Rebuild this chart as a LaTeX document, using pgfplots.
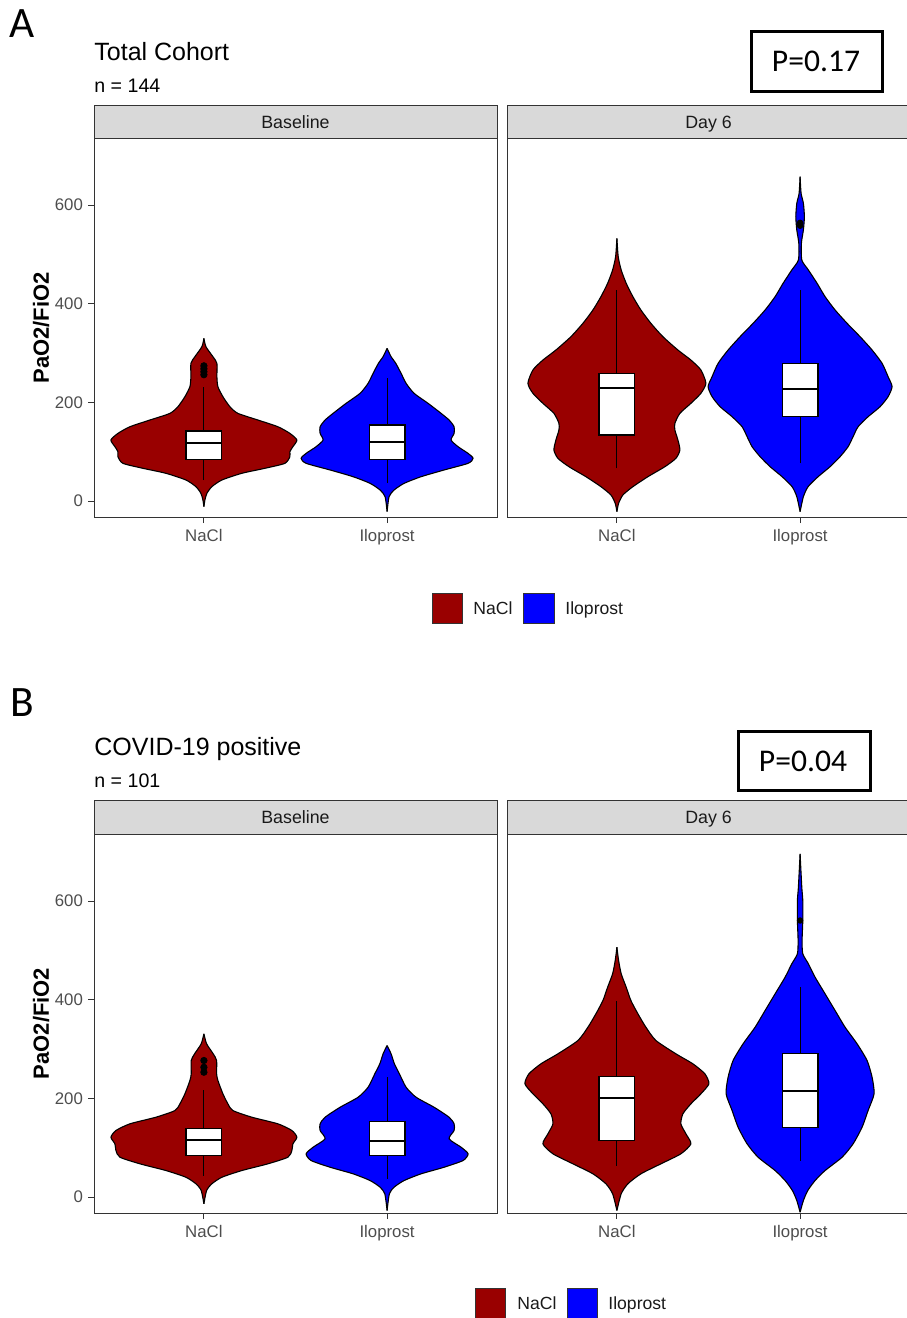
\documentclass[border=0pt]{standalone}
\usepackage{pgfplots}
\pgfplotsset{compat=1.18}
\usepackage{pgfplotstable}
\usepgfplotslibrary{fillbetween}
\usepackage{fontspec}
\setmainfont{Liberation Sans}
\newfontfamily\calibri{Carlito}
\definecolor{nacl}{HTML}{990000}
\definecolor{ilo}{HTML}{0000FF}
\definecolor{grey20}{HTML}{333333}
\definecolor{grey30}{HTML}{4D4D4D}
\definecolor{grey10}{HTML}{1A1A1A}
\definecolor{grey85}{HTML}{D9D9D9}

% violin half-widths (w in pixels of the original, 183.2 px per category unit)
\pgfplotstableread{
y w
-11.5 0
2 1
15.6 3
29.1 8
42.6 18
56.2 38
66.3 61
76.4 81
89.9 86
100 86
110.1 89
123.7 93
137.1 86
150.6 74
164.2 54
177.7 34
191.2 26
211.5 19
231.8 14
252.1 13
279.1 13
292.6 9
312.9 2
329.8 0
}\vAbn
\pgfplotstableread{
y w
-21.6 0
8.8 2
22.3 7
35.8 17
49.3 34
62.9 57
76.4 81
86.5 86
96.6 81
110.1 71
123.7 64
137.1 67
150.6 67
164.2 62
177.7 54
198 41
218.3 27
238.6 19
258.8 14
279.1 8.7
292.6 4
309.5 0
}\vAbi
\pgfplotstableread{
y w
-21.6 0
-4.7 1.7
12.2 6
29.1 16
49.3 31
69.6 48
86.5 59
103.4 63
123.7 61
143.9 58
157.5 58
177.7 63
198 74
218.3 84
238.6 89
265.6 84
285.8 74
306.1 61
333.1 46
360.2 34
387.2 24
414.2 16
441.3 9.3
468.3 4.3
495.3 1.3
532.5 0
}\vAdn
\pgfplotstableread{
y w
-21.6 0
8.8 3.3
29.1 8
49.3 18
69.6 30
89.9 40
110.1 48
130.4 53
150.6 58
170.9 68
191.2 80
211.5 88
231.8 92
252.1 88
279.1 82
306.1 72
333.1 60
360.2 47
387.2 35
414.2 25
441.3 17
468.3 8.3
488.5 1.7
522.4 1.3
549.4 3.3
576.3 4.3
603.4 3.3
623.7 1
657.5 0
}\vAdi
\pgfplotstableread{
y w
-13.8 0
13.2 2.7
26.8 8
40.1 18
53.7 38
67.3 64
80.7 84
94.3 88
107.8 89
121.2 93
134.8 88
148.4 74
161.8 48
175.3 29
188.9 24
209.2 19
236.2 14
249.7 12.7
276.7 12.7
290.3 9.3
310.6 2.7
330.8 0
}\vBbn
\pgfplotstableread{
y w
-27.4 0
6.5 2.3
19.9 7
33.4 17
47 34
60.4 57
74 76
87.6 81
101 74
118 62
134.8 67
148.4 67
161.8 62
182 47
202.3 29
222.6 19
249.7 12.3
270 7.3
290.3 4
307.1 0
}\vBbi
\pgfplotstableread{
y w
-27.4 0
6.5 4.3
26.8 11
47 24
67.3 44
87.6 64
107.8 74
128.1 69
148.4 64
168.7 66
188.9 74
209.2 84
229.5 92
249.7 88
270 76
290.3 59
317.3 39
344.2 29
371.4 21
398.3 14
425.3 9.3
452.5 4.3
479.4 1.7
506.4 0
}\vBdn
\pgfplotstableread{
y w
-30.8 0
-7.1 3.3
13.2 7.7
33.4 15
53.7 25
80.7 42
107.8 53
141.5 62
175.3 68
209.2 74
242.9 72
276.7 67
310.6 57
344.2 45
378.1 35
411.9 25
445.6 15
472.7 8.3
493 2.7
520 2
560.5 2.7
601 2.7
628 1.7
695.7 0
}\vBdi

\newcommand{\violin}[3]{%
  \addplot[draw=black, line width=0.55pt, smooth, tension=0.4, name path=vR#1] table[x expr=#1+\thisrow{w}/183.2, y=y]{#2};
  \addplot[draw=black, line width=0.55pt, smooth, tension=0.4, name path=vL#1] table[x expr=#1-\thisrow{w}/183.2, y=y]{#2};
  \addplot[fill=#3, draw=none] fill between[of=vR#1 and vL#1];
}
% center, left, right, q1, median, q3, lower whisker, upper whisker
\newcommand{\boxwhisk}[8]{%
  \addplot[black, line width=0.5pt] coordinates {(#1,#7) (#1,#4)};
  \addplot[black, line width=0.5pt] coordinates {(#1,#6) (#1,#8)};
  \addplot[fill=white, draw=black, line width=0.6pt] coordinates {(#2,#4) (#3,#4) (#3,#6) (#2,#6)} -- cycle;
  \addplot[black, line width=1.1pt] coordinates {(#2,#5) (#3,#5)};
}

\pgfplotsset{
  facet/.style={
    width=201.5pt, height=189.5pt, scale only axis,
    xmin=0.4, xmax=2.6, ymin=-32.4, ymax=735.8,
    axis line style={grey20, line width=0.5pt},
    xtick={1,2}, xticklabels={NaCl,Iloprost},
    ytick={0,200,400,600},
    xtick pos=bottom, ytick pos=left,
    tick align=outside, major tick length=3pt,
    tick style={grey20, line width=0.5pt},
    ticklabel style={font=\fontsize{8.4}{10}\selectfont, text=grey30},
    xticklabel style={yshift=0.3pt},
    yticklabel style={xshift=1pt},
    /pgf/number format/assume math mode=true,
    anchor=south west, clip=false,
  },
  rightfacet/.style={facet, ytick=\empty},
}
\tikzset{
  strip/.style={anchor=base, inner sep=0, font=\fontsize{8.9}{10}\selectfont, text=grey10},
  legtext/.style={anchor=base west, inner sep=0, font=\fontsize{8.8}{10}\selectfont, text=grey10},
}

\begin{document}
\begin{tikzpicture}
% ---------- Panel A ----------
\node[anchor=center, inner sep=0] at (11pt,-12pt) {\calibri\fontsize{21.7}{24}\selectfont A};
\node[anchor=base west, inner sep=0] at (47pt,-30pt) {\fontsize{12.5}{14}\selectfont Total Cohort};
\node[anchor=base west, inner sep=0] at (47pt,-46pt) {\fontsize{9.8}{12}\selectfont n = 144};
\draw[line width=1.5pt] (375.5pt,-15.5pt) rectangle (441pt,-45.5pt);
\node[inner sep=0] at (408pt,-30.5pt) {\calibri\fontsize{15.8}{18}\selectfont P=0.17};
\draw[fill=grey85, draw=grey20, line width=0.5pt] (47pt,-52.5pt) rectangle (248.5pt,-69pt);
\draw[fill=grey85, draw=grey20, line width=0.5pt] (253.5pt,-52.5pt) rectangle (455pt,-69pt);
\node[strip] at (147.75pt,-64pt) {Baseline};
\node[strip] at (354.25pt,-64pt) {Day 6};
\node[rotate=90, font=\bfseries\fontsize{11}{13}\selectfont] at (20.5pt,-164pt) {PaO2/FiO2};

\begin{axis}[facet, at={(47pt,-258.5pt)}]
  \violin{1}{\vAbn}{nacl}
  \violin{2}{\vAbi}{ilo}
  \boxwhisk{1}{0.902}{1.098}{84.6}{116.9}{141.9}{42.6}{232}
  \boxwhisk{2}{1.902}{2.098}{84.6}{120.3}{154}{35.8}{248.7}
  \addplot[only marks, mark=*, mark size=1.6pt, black] coordinates {(1,256) (1,262) (1,268) (1,274)};
\end{axis}
\begin{axis}[rightfacet, at={(253.5pt,-258.5pt)}]
  \violin{1}{\vAdn}{nacl}
  \violin{2}{\vAdi}{ilo}
  \boxwhisk{1}{0.902}{1.098}{133.8}{228.4}{258.8}{66.3}{427.7}
  \boxwhisk{2}{1.902}{2.098}{170.9}{226.4}{279.1}{76.4}{427.7}
  \addplot[only marks, mark=*, mark size=1.4pt, black] coordinates {(2,558) (2,564)};
\end{axis}

\draw[fill=nacl, draw=grey20, line width=0.5pt] (216pt,-296.5pt) rectangle (231pt,-311.5pt);
\node[legtext] at (236.5pt,-307.2pt) {NaCl};
\draw[fill=ilo, draw=grey20, line width=0.5pt] (261.5pt,-296.5pt) rectangle (277pt,-311.5pt);
\node[legtext] at (282.5pt,-307.2pt) {Iloprost};

% ---------- Panel B ----------
\node[anchor=center, inner sep=0] at (11pt,-351.5pt) {\calibri\fontsize{21.7}{24}\selectfont B};
\node[anchor=base west, inner sep=0] at (47pt,-377.5pt) {\fontsize{12.5}{14}\selectfont COVID-19 positive};
\node[anchor=base west, inner sep=0] at (47pt,-393.5pt) {\fontsize{9.8}{12}\selectfont n = 101};
\draw[line width=1.5pt] (369pt,-365.5pt) rectangle (435pt,-395pt);
\node[inner sep=0] at (401.5pt,-380.5pt) {\calibri\fontsize{15.8}{18}\selectfont P=0.04};
\draw[fill=grey85, draw=grey20, line width=0.5pt] (47pt,-400pt) rectangle (248.5pt,-417pt);
\draw[fill=grey85, draw=grey20, line width=0.5pt] (253.5pt,-400pt) rectangle (455pt,-417pt);
\node[strip] at (147.75pt,-411.7pt) {Baseline};
\node[strip] at (354.25pt,-411.7pt) {Day 6};
\node[rotate=90, font=\bfseries\fontsize{11}{13}\selectfont] at (20.5pt,-511.75pt) {PaO2/FiO2};

\begin{axis}[facet, at={(47pt,-606.5pt)}]
  \violin{1}{\vBbn}{nacl}
  \violin{2}{\vBbi}{ilo}
  \boxwhisk{1}{0.902}{1.098}{84.1}{115.9}{139.5}{43.6}{217.3}
  \boxwhisk{2}{1.902}{2.098}{84.1}{113.1}{153}{36.9}{242.9}
  \addplot[only marks, mark=*, mark size=1.6pt, black] coordinates {(1,253) (1,263) (1,276.7)};
\end{axis}
\begin{axis}[rightfacet, at={(253.5pt,-606.5pt)}]
  \violin{1}{\vBdn}{nacl}
  \violin{2}{\vBdi}{ilo}
  \boxwhisk{1}{0.902}{1.098}{114.5}{201.1}{244.3}{63.9}{398.3}
  \boxwhisk{2}{1.902}{2.098}{141.5}{214.5}{291.5}{74}{425.3}
  \addplot[only marks, mark=*, mark size=1.4pt, black] coordinates {(2,560.5)};
\end{axis}

\draw[fill=nacl, draw=grey20, line width=0.5pt] (237.5pt,-644pt) rectangle (252.5pt,-659pt);
\node[legtext] at (258.5pt,-654.7pt) {NaCl};
\draw[fill=ilo, draw=grey20, line width=0.5pt] (283.5pt,-644pt) rectangle (298.5pt,-659pt);
\node[legtext] at (304pt,-654.7pt) {Iloprost};

\pgfresetboundingbox
\useasboundingbox (0,0) rectangle (453pt,-659pt);
\end{tikzpicture}
\end{document}
